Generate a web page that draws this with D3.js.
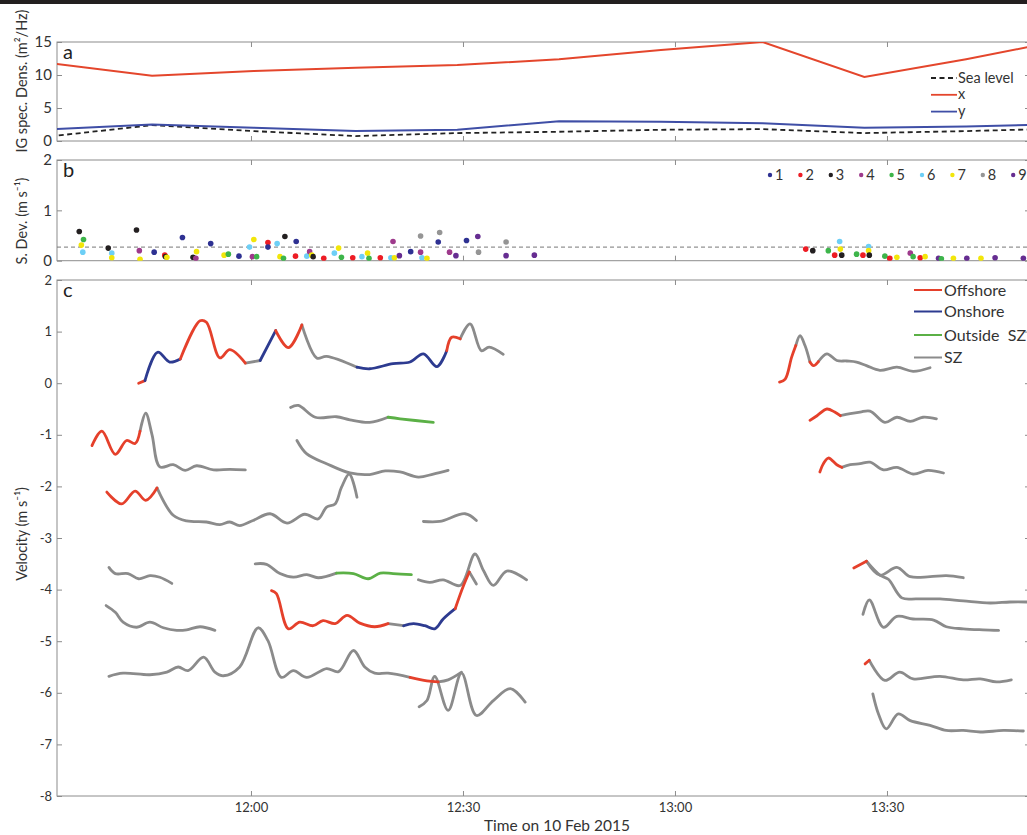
<!DOCTYPE html>
<html><head><meta charset="utf-8">
<script src="https://cdn.jsdelivr.net/npm/d3@7"></script>
<style>body{margin:0;background:#fff}svg{display:block;font-family:Lato,"Open Sans",sans-serif}</style>
</head><body><svg id="chart" width="1027" height="835"></svg>
<script>
// ---------- DATA (time = minutes after 11:00 on 10 Feb 2015) ----------
// Panel a: IG spectral density
const specTime = [31.6, 46.0, 60.4, 74.8, 89.2, 103.6, 118.0, 132.4, 146.8, 161.2, 175.6];
const specX    = [11.8, 9.9, 10.6, 11.1, 11.5, 12.4, 13.8, 15.0, 9.7, 12.4, 15.4];
const specY    = [1.75, 2.5, 2.0, 1.5, 1.7, 3.0, 2.9, 2.7, 2.0, 2.2, 2.6];
const seaLevel = [0.7, 2.4, 1.5, 0.75, 1.2, 1.4, 1.7, 1.8, 1.2, 1.5, 1.9];
const specLegend = ["Sea level", "x", "y"];

// Panel b: standard deviation per sensor
const sensorNames = ["1","2","3","4","5","6","7","8","9"];
const sensorColors = ["#2e3192","#ed1c24","#231f20","#9e3a8c","#3db54a","#6dcff6","#f2e60a","#959595","#662d91"];
const sdThreshold = 0.27;
const dotTime = [35.7,36.3,36.0,36.2,39.8,40.3,40.3,43.8,44.2,44.3,46.3,47.8,47.9,48.1,50.3,52.3,51.8,52.2,54.3,56.2,56.8,58.3,60.4,59.8,60.2,60.8,62.4,62.4,63.7,64.8,64.1,64.6,66.4,66.3,67.9,68.3,68.6,68.8,70.3,71.8,72.4,72.8,74.4,75.7,76.5,76.7,78.3,79.8,80.1,80.3,81.0,82.6,84.0,84.0,84.2,84.9,86.5,86.7,88.1,89.0,90.5,92.1,92.2,96.1,96.1,100.1,
  138.5,139.5,141.7,143.3,143.4,142.6,143.6,145.7,146.6,147.4,147.4,147.5,149.7,150.4,151.4,153.3,153.7,154.7,155.4,157.3,157.7,159.4,161.3,163.3,165.3,169.3];
const dotSD = [0.58,0.42,0.31,0.17,0.25,0.15,0.06,0.61,0.20,0.03,0.17,0.11,0.08,0.07,0.46,0.18,0.07,0.05,0.34,0.11,0.13,0.09,0.42,0.27,0.08,0.08,0.36,0.27,0.34,0.48,0.08,0.05,0.38,0.09,0.09,0.18,0.11,0.08,0.05,0.15,0.25,0.07,0.06,0.08,0.15,0.05,0.06,0.06,0.38,0.06,0.10,0.18,0.49,0.17,0.06,0.05,0.37,0.56,0.17,0.10,0.40,0.48,0.17,0.37,0.10,0.11,
  0.23,0.20,0.20,0.38,0.23,0.11,0.11,0.13,0.11,0.28,0.20,0.11,0.09,0.05,0.07,0.15,0.08,0.06,0.08,0.05,0.04,0.05,0.05,0.05,0.06,0.05];
const dotSensor = [3,5,7,6,3,6,7,3,4,7,1,2,3,7,1,7,3,4,1,7,5,1,7,6,4,5,2,1,6,3,7,5,1,2,6,4,7,3,2,6,7,5,2,6,7,5,2,6,4,7,9,1,8,4,6,7,1,8,4,9,1,9,8,8,9,9,
  2,3,5,6,7,2,3,5,2,6,7,3,5,2,7,4,5,2,7,9,5,7,9,7,9,9];

// Panel c: velocity traces [time, velocity, class of following segment]
// classes: o = Offshore, n = Onshore, g = Outside SZ, s = SZ
const traceA = [[44.1,0.00,'o'],[45.0,0.05,'n'],[46.8,0.60,'n'],[48.5,0.41,'n'],[50.0,0.47,'o'],[52.8,1.21,'o'],[53.7,1.18,'o'],[55.6,0.49,'o'],[57.0,0.65,'o'],[59.2,0.39,'s'],[61.3,0.44,'n'],[63.5,1.02,'o'],[65.3,0.69,'o'],[67.2,1.13,'s'],[69.3,0.49,'s'],[70.7,0.52,'s'],[75.0,0.31,'n'],[76.8,0.28,'n'],[80.1,0.38,'n'],[82.5,0.41,'n'],[84.4,0.57,'n'],[86.3,0.32,'n'],[87.7,0.63,'o'],[88.4,0.89,'o'],[89.6,0.86,'s'],[91.0,1.15,'s'],[92.6,0.63,'s'],[93.7,0.70,'s'],[95.7,0.56,'s']];
const traceB = [[65.6,-0.47,'s'],[66.7,-0.43,'s'],[69.1,-0.66,'s'],[72.1,-0.65,'s'],[74.0,-0.71,'s'],[76.8,-0.76,'s'],[79.4,-0.66,'g'],[81.1,-0.69,'g'],[85.8,-0.76,'g']];
const traceC = [[37.5,-1.21,'o'],[38.9,-0.93,'o'],[40.8,-1.38,'o'],[42.4,-1.11,'o'],[43.6,-1.17,'o'],[44.3,-0.93,'s'],[45.1,-0.58,'s'],[46.0,-1.00,'s'],[47.1,-1.62,'s'],[49.0,-1.58,'s'],[50.7,-1.69,'s'],[52.3,-1.60,'s'],[54.7,-1.68,'s'],[57.0,-1.67,'s'],[59.2,-1.68,'s']];
const traceD = [[66.5,-1.11,'s'],[67.9,-1.37,'s'],[70.7,-1.56,'s'],[74.0,-1.74,'s'],[76.8,-1.77,'s'],[79.0,-1.70,'s'],[81.1,-1.72,'s'],[83.7,-1.82,'s'],[85.8,-1.76,'s'],[87.9,-1.69,'s']];
const traceE = [[39.6,-2.11,'o'],[41.7,-2.34,'o'],[43.6,-2.09,'o'],[45.1,-2.27,'o'],[46.7,-2.03,'s'],[49.0,-2.56,'s'],[50.9,-2.67,'s'],[53.7,-2.69,'s'],[55.6,-2.74,'s'],[57.0,-2.69,'s'],[58.4,-2.76,'s'],[60.3,-2.66,'s'],[62.7,-2.53,'s'],[65.1,-2.71,'s'],[67.6,-2.54,'s'],[69.5,-2.63,'s'],[70.7,-2.40,'s'],[71.9,-2.34,'s'],[72.8,-2.02,'s'],[73.9,-1.76,'s'],[75.0,-2.21,'s']];
const traceF = [[84.4,-2.68,'s'],[86.7,-2.68,'s'],[90.3,-2.53,'s'],[91.9,-2.66,'s']];
const traceG = [[39.9,-3.57,'s'],[40.8,-3.69,'s'],[42.6,-3.69,'s'],[44.1,-3.79,'s'],[45.7,-3.73,'s'],[47.1,-3.76,'s'],[48.8,-3.88,'s']];
const traceH = [[60.6,-3.50,'s'],[62.2,-3.51,'s'],[64.1,-3.69,'s'],[66.0,-3.76,'s'],[67.9,-3.71,'s'],[69.5,-3.77,'s'],[72.1,-3.68,'g'],[74.5,-3.69,'g'],[76.6,-3.79,'g'],[78.3,-3.68,'g'],[80.1,-3.69,'g'],[82.7,-3.71,'g']];
const traceI = [[83.7,-3.81,'s'],[85.3,-3.86,'s'],[87.2,-3.81,'s'],[89.6,-3.92,'s'],[91.7,-3.31,'s'],[92.9,-3.63,'s'],[94.3,-3.92,'s'],[96.2,-3.64,'s'],[99.0,-3.81,'s']];
const traceJ = [[62.9,-4.02,'o'],[63.6,-4.08,'o'],[65.3,-4.76,'o'],[66.9,-4.63,'o'],[68.8,-4.70,'o'],[70.2,-4.60,'o'],[71.9,-4.66,'o'],[73.6,-4.50,'o'],[75.4,-4.65,'o'],[77.5,-4.72,'o'],[79.4,-4.66,'s'],[81.6,-4.70,'n'],[83.0,-4.66,'n'],[84.6,-4.70,'n'],[86.0,-4.76,'n'],[87.2,-4.57,'n'],[88.9,-4.37,'o'],[90.0,-3.95,'o'],[90.9,-3.66,'s'],[91.9,-3.89,'s']];
const traceK = [[39.5,-4.31,'s'],[40.8,-4.44,'s'],[41.9,-4.63,'s'],[43.8,-4.73,'s'],[45.7,-4.63,'s'],[47.6,-4.74,'s'],[49.5,-4.79,'s'],[50.9,-4.78,'s'],[52.8,-4.72,'s'],[54.9,-4.79,'s']];
const traceL = [[39.9,-5.68,'s'],[41.9,-5.62,'s'],[45.7,-5.65,'s'],[48.1,-5.60,'s'],[49.7,-5.50,'s'],[51.1,-5.57,'s'],[53.3,-5.31,'s'],[54.9,-5.60,'s'],[56.1,-5.67,'s'],[58.4,-5.50,'s'],[61.0,-4.74,'s'],[62.4,-4.99,'s'],[64.3,-5.70,'s'],[66.0,-5.57,'s'],[67.9,-5.70,'s'],[70.7,-5.53,'s'],[72.4,-5.59,'s'],[74.5,-5.18,'s'],[76.1,-5.50,'s'],[77.5,-5.62,'s'],[79.4,-5.62,'s'],[82.5,-5.70,'o'],[84.9,-5.77,'o'],[86.5,-5.79,'s'],[87.9,-5.75,'s'],[89.8,-5.60,'s']];
const traceM = [[83.8,-6.27,'s'],[84.9,-6.15,'s'],[86.0,-5.68,'s'],[87.9,-6.34,'s'],[89.8,-5.62,'s'],[91.9,-6.44,'s'],[94.3,-6.15,'s'],[96.7,-5.92,'s'],[98.8,-6.18,'s']];
const traceR1 = [[134.8,0.02,'o'],[135.6,0.08,'o'],[136.5,0.50,'o'],[137.1,0.73,'s'],[137.7,0.92,'s'],[138.4,0.73,'s'],[139.1,0.41,'o'],[139.6,0.34,'o'],[140.3,0.42,'s'],[141.5,0.57,'s'],[142.9,0.44,'s'],[144.3,0.43,'s'],[145.7,0.41,'s'],[147.1,0.34,'s'],[149.0,0.25,'s'],[151.4,0.31,'s'],[153.7,0.23,'s'],[156.1,0.30,'s']];
const traceR2 = [[139.1,-0.72,'o'],[140.1,-0.63,'o'],[141.5,-0.50,'o'],[142.6,-0.56,'o'],[143.4,-0.63,'s'],[144.8,-0.59,'s'],[146.2,-0.56,'s'],[147.6,-0.54,'s'],[149.7,-0.76,'s'],[151.4,-0.66,'s'],[153.3,-0.74,'s'],[155.1,-0.66,'s'],[157.0,-0.69,'s']];
const traceR3 = [[140.5,-1.72,'o'],[141.0,-1.56,'o'],[141.7,-1.45,'o'],[142.9,-1.58,'o'],[143.6,-1.63,'s'],[144.8,-1.58,'s'],[146.2,-1.56,'s'],[147.6,-1.53,'s'],[149.5,-1.68,'s'],[151.4,-1.63,'s'],[153.7,-1.76,'s'],[155.8,-1.69,'s'],[158.0,-1.74,'s']];
const traceR4 = [[145.3,-3.58,'o'],[147.1,-3.45,'s'],[149.0,-3.72,'s'],[151.4,-3.57,'s'],[153.3,-3.75,'s'],[156.1,-3.75,'s'],[158.4,-3.73,'s'],[160.8,-3.77,'s']];
const traceR5 = [[147.1,-3.45,'s'],[149.0,-3.72,'s'],[150.2,-3.80,'s'],[152.1,-4.16,'s'],[154.2,-4.18,'s'],[157.5,-4.18,'s'],[160.8,-4.22,'s'],[164.6,-4.26,'s'],[167.4,-4.24,'s'],[169.8,-4.24,'s'],[171.5,-4.25,'s']];
const traceR6 = [[146.6,-4.48,'s'],[147.5,-4.20,'s'],[149.5,-4.73,'s'],[151.4,-4.52,'s'],[153.7,-4.57,'s'],[156.6,-4.59,'s'],[158.4,-4.72,'s'],[160.8,-4.76,'s'],[163.6,-4.78,'s'],[165.8,-4.79,'s']];
const traceR7 = [[146.9,-5.44,'o'],[147.5,-5.37,'s'],[149.7,-5.76,'s'],[151.8,-5.60,'s'],[153.7,-5.73,'s'],[157.5,-5.68,'s'],[160.8,-5.75,'s'],[163.2,-5.73,'s'],[165.5,-5.79,'s'],[167.6,-5.75,'s']];
const traceR8 = [[148.0,-6.02,'s'],[148.8,-6.41,'s'],[149.9,-6.70,'s'],[151.6,-6.41,'s'],[153.3,-6.54,'s'],[156.1,-6.63,'s'],[158.4,-6.73,'s'],[160.8,-6.73,'s'],[163.2,-6.76,'s'],[166.5,-6.73,'s'],[169.3,-6.74,'s']];
const velClasses = ["o","n","g","s"];
const velLabels = ["Offshore","Onshore","Outside  SZ","SZ"];
const velColors = {o:"#e5402b", n:"#2d3b90", g:"#5bb046", s:"#8b8b8b"};

const timeTicks = [60, 90, 120, 150];
const ticksA = [0,5,10,15], ticksB = [0,1,2], ticksC = [-8,-7,-6,-5,-4,-3,-2,-1,0,1,2];

// ---------- DRAWING ----------
const svg = d3.select('#chart');
const T0 = new Date(2015,1,10,11,0,0);
const tm = m => new Date(T0.getTime() + m*60000);
const X0 = 57, X1 = 1030;
const x = d3.scaleTime().domain([tm(32.55), tm(170.24)]).range([X0, X1]);
const frameCol = '#8c8c8c', textCol = '#333';

svg.append('rect').attr('x',0).attr('y',0).attr('width',1027).attr('height',4).attr('fill','#231f20');

const panels = [
  {key:'a', y:d3.scaleLinear([0,15],[141,42]), ticks:ticksA, fs:15},
  {key:'b', y:d3.scaleLinear([0,2],[260.7,160]), ticks:ticksB, fs:15},
  {key:'c', y:d3.scaleLinear([-8,2],[796,280]), ticks:ticksC, fs:13}
];
const defs = svg.append('defs');
panels.forEach(p => {
  const [bot, top] = p.y.range();
  p.top = top; p.bot = bot;
  defs.append('clipPath').attr('id','clip-'+p.key).append('rect')
    .attr('x',X0).attr('y',top).attr('width',X1-X0).attr('height',bot-top);
  svg.append('rect').attr('x',X0).attr('y',top).attr('width',X1-X0).attr('height',bot-top)
    .attr('fill','none').attr('stroke',frameCol).attr('stroke-width',1);
  const style = g => {
    g.select('.domain').remove();
    g.selectAll('line').attr('stroke',frameCol);
    g.selectAll('text').attr('fill',textCol).attr('font-size',p.fs).attr('font-family','Lato, sans-serif');
  };
  svg.append('g').attr('transform',`translate(${X0},0)`)
    .call(d3.axisLeft(p.y).tickValues(p.ticks).tickSize(-5).tickPadding(5).tickFormat(d=>String(d))).call(style);
  svg.append('g').attr('transform',`translate(${X1},0)`)
    .call(d3.axisRight(p.y).tickValues(p.ticks).tickSize(-5).tickFormat('')).call(style);
  svg.append('g').attr('transform',`translate(0,${top})`)
    .call(d3.axisTop(x).tickValues(timeTicks.map(tm)).tickSize(-5).tickFormat('')).call(style);
  const bAx = d3.axisBottom(x).tickValues(timeTicks.map(tm)).tickSize(-5).tickPadding(7)
    .tickFormat(p.key==='c' ? d3.timeFormat('%H:%M') : '');
  svg.append('g').attr('transform',`translate(0,${bot})`).call(bAx).call(style);
  svg.append('text').attr('x',63).attr('y',top+17).attr('font-size',20).attr('fill','#222').text(p.key);
});
const [pa, pb, pc] = panels;

// Axis titles
const ytitle = (txt, cy) => svg.append('text').attr('transform',`translate(27,${cy}) rotate(-90)`)
  .attr('text-anchor','middle').attr('font-size',14.5).attr('fill',textCol).text(txt);
ytitle('IG spec. Dens. (m²/Hz)', 81);
ytitle('S. Dev. (m s⁻¹)', 221);
ytitle('Velocity (m s⁻¹)', 534);
svg.append('text').attr('x',557).attr('y',831).attr('text-anchor','middle').attr('font-size',15.5)
  .attr('fill',textCol).text('Time on 10 Feb 2015');

// Panel a
const ga = svg.append('g').attr('clip-path','url(#clip-a)');
const lineA = vals => d3.line().x((d,i)=>x(tm(specTime[i]))).y(d=>pa.y(d))(vals);
ga.append('path').attr('d',lineA(seaLevel)).attr('fill','none').attr('stroke','#222').attr('stroke-width',1.8).attr('stroke-dasharray','5,3.5');
ga.append('path').attr('d',lineA(specY)).attr('fill','none').attr('stroke','#3f4ea6').attr('stroke-width',2);
ga.append('path').attr('d',lineA(specX)).attr('fill','none').attr('stroke','#e4462c').attr('stroke-width',2);
const legA = [{dash:'5,3.5',col:'#222'},{dash:null,col:'#e4462c'},{dash:null,col:'#3f4ea6'}];
legA.forEach((l,i)=>{
  const yy = 78 + i*16.8;
  svg.append('line').attr('x1',931).attr('x2',957).attr('y1',yy).attr('y2',yy)
    .attr('stroke',l.col).attr('stroke-width',1.8).attr('stroke-dasharray',l.dash);
  svg.append('text').attr('x',958).attr('y',yy+4.5).attr('font-size',14.5).attr('fill',textCol).text(specLegend[i]);
});

// Panel b
const gb = svg.append('g').attr('clip-path','url(#clip-b)');
gb.append('line').attr('x1',X0).attr('x2',X1).attr('y1',pb.y(sdThreshold)).attr('y2',pb.y(sdThreshold))
  .attr('stroke','#777').attr('stroke-width',1).attr('stroke-dasharray','4,3');
gb.selectAll('circle').data(dotTime.map((t,i)=>({t, v:dotSD[i], s:dotSensor[i]}))).join('circle')
  .attr('cx',d=>x(tm(d.t))).attr('cy',d=>pb.y(d.v)).attr('r',2.8)
  .attr('fill',d=>sensorColors[d.s-1]);
sensorNames.forEach((n,i)=>{
  const lx = 770 + i*30.4;
  svg.append('circle').attr('cx',lx).attr('cy',175).attr('r',2.2).attr('fill',sensorColors[i]);
  svg.append('text').attr('x',lx+5).attr('y',180).attr('font-size',14.5).attr('fill',textCol).text(n);
});

// Panel c
const gc = svg.append('g').attr('clip-path','url(#clip-c)');
const traces = [traceA,traceB,traceC,traceD,traceE,traceF,traceG,traceH,traceI,traceJ,traceK,traceL,traceM,
  traceR1,traceR2,traceR3,traceR4,traceR5,traceR6,traceR7,traceR8];
const lineC = d3.line().curve(d3.curveCatmullRom.alpha(0.5)).x(d=>x(tm(d[0]))).y(d=>pc.y(d[1]));
function runs(tr){
  const out = []; let start = 0;
  for (let i=1;i<tr.length;i++){
    const code = tr[i-1][2];
    if (i===tr.length-1 || tr[i][2]!==code){ out.push({code, pts:tr.slice(start,i+1)}); start=i; }
  }
  return out;
}
let allRuns = [];
traces.forEach(tr => allRuns = allRuns.concat(runs(tr)));
allRuns.sort((a,b)=>(a.code==='s'?0:1)-(b.code==='s'?0:1));
gc.selectAll('path.run').data(allRuns).join('path').attr('class','run')
  .attr('d',d=>lineC(d.pts)).attr('fill','none').attr('stroke',d=>velColors[d.code])
  .attr('stroke-width',2.8).attr('stroke-linecap','round').attr('stroke-linejoin','round');
velClasses.forEach((c,i)=>{
  const yy = [290,311.5,335,357.5][i];
  svg.append('line').attr('x1',914).attr('x2',942).attr('y1',yy).attr('y2',yy)
    .attr('stroke',velColors[c]).attr('stroke-width',2);
  svg.append('text').attr('x',944).attr('y',yy+5.5).attr('font-size',16).attr('fill',textCol)
    .attr('xml:space','preserve').style('white-space','pre').text(velLabels[i]);
});
</script></body></html>
